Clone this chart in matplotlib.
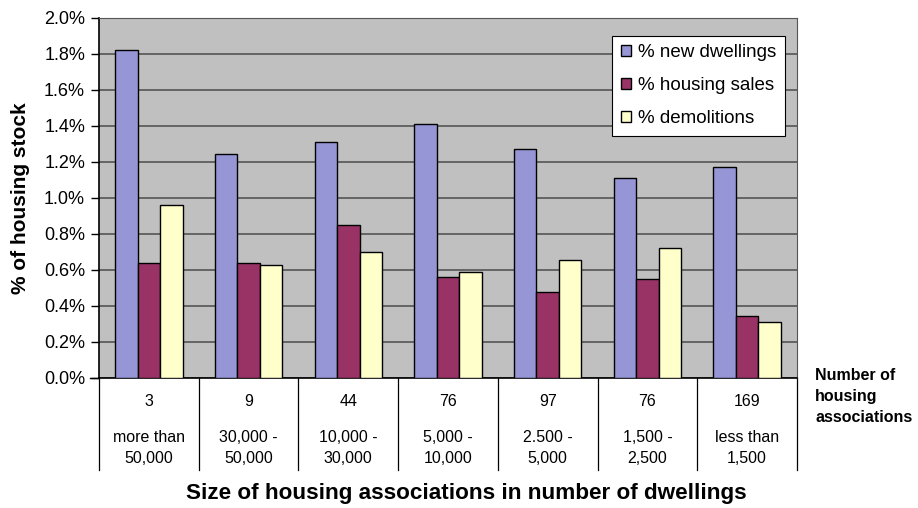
import matplotlib
matplotlib.use("Agg")
import matplotlib.pyplot as plt
import numpy as np

plt.rcParams['font.family'] = ['Liberation Sans', 'DejaVu Sans']

counts = ["3", "9", "44", "76", "97", "76", "169"]
sizes = ["more than\n50,000", "30,000 -\n50,000", "10,000 -\n30,000", "5,000 -\n10,000",
         "2.500 -\n5,000", "1,500 -\n2,500", "less than\n1,500"]
new_dwellings = [1.82, 1.245, 1.31, 1.41, 1.275, 1.11, 1.175]
housing_sales = [0.64, 0.64, 0.85, 0.56, 0.48, 0.55, 0.345]
demolitions = [0.96, 0.63, 0.70, 0.59, 0.655, 0.72, 0.31]
series_names = ["% new dwellings", "% housing sales", "% demolitions"]
colors = ["#9696D6", "#993366", "#FFFFCC"]

L, R, T, B = 99, 797, 18, 378
fig = plt.figure(figsize=(9.18, 5.08), dpi=100)
ax = fig.add_axes([L/918, 1-B/508, (R-L)/918, (B-T)/508])
ax.set_facecolor("#C0C0C0")

x = np.arange(len(counts))
w = 0.225
for i, (vals, name, c) in enumerate(zip([new_dwellings, housing_sales, demolitions], series_names, colors)):
    ax.bar(x + (i-1)*w, vals, width=w, color=c, edgecolor="black", linewidth=1.0, label=name, zorder=3)

ax.set_ylim(0, 2.0)
ax.set_xlim(-0.5, len(counts)-0.5)
yt = np.arange(0, 2.01, 0.2)
ax.set_yticks(yt)
ax.set_yticklabels([f"{v:.1f}%" for v in yt], fontsize=13)
ax.yaxis.grid(True, color="#555555", linewidth=1.2, zorder=1)
ax.set_axisbelow(True)
ax.tick_params(axis='y', direction='out', length=6, width=1, pad=4)
ax.set_xticks([])
for s in ["left", "bottom"]:
    ax.spines[s].set_linewidth(1.2)
for s in ["top", "right"]:
    ax.spines[s].set_color("#555555")

# table below
tr = ax.get_xaxis_transform()
H = B - T
depth = -(470-B)/H
for b in np.arange(-0.5, len(counts), 1.0):
    ax.plot([b, b], [0, depth], color="black", linewidth=0.9, transform=tr, clip_on=False)
ax.plot([-0.5, -0.5-0.09], [0, 0], color="black", linewidth=1.0, transform=tr, clip_on=False)
for xi, cnt, sz in zip(x, counts, sizes):
    ax.text(xi, -(401-B)/H, cnt, ha="center", va="center", fontsize=11.5, transform=tr)
    ax.text(xi, -(448-B)/H, sz, ha="center", va="center", fontsize=11.5,
            linespacing=1.45, transform=tr)

fig.text(815/918, 1-397/508, "Number of\nhousing\nassociations", fontsize=11.5, fontweight="bold",
         ha="left", va="center", linespacing=1.5)

ax.set_ylabel("% of housing stock", fontsize=15, fontweight="bold", labelpad=10)
fig.text(466/918, 1-494/508, "Size of housing associations in number of dwellings",
         fontsize=16.2, fontweight="bold", ha="center", va="center")

leg = ax.legend(loc="upper right", bbox_to_anchor=((785-L)/(R-L), (B-36)/H), fontsize=13.5,
                frameon=True, fancybox=False, edgecolor="black", framealpha=1,
                handlelength=0.55, handleheight=0.55, handletextpad=0.4, borderpad=0.45,
                labelspacing=0.85, borderaxespad=0)
leg.get_frame().set_linewidth(0.8)

fig.savefig("out.png", dpi=100)
